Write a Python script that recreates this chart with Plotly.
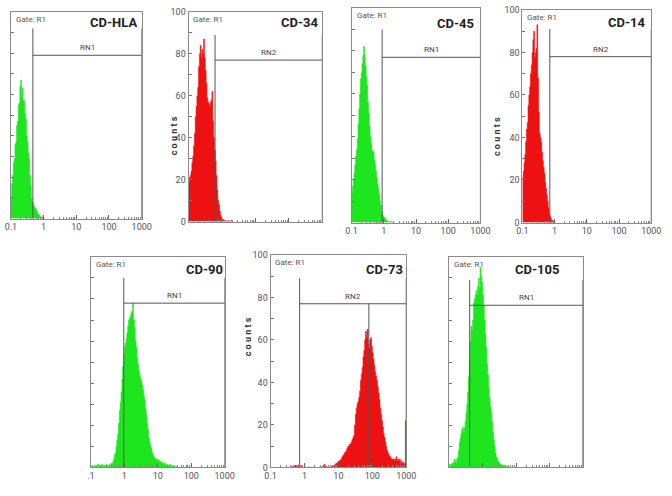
import math
import plotly.graph_objects as go

# histogram channels: log-spaced bins starting at 0.1, 40 bins per decade
bin_start = -1.0
bin_step = 0.025

panel_names = ["CD-HLA", "CD-34", "CD-45", "CD-14", "CD-90", "CD-73", "CD-105"]
region_names = ["RN1", "RN2", "RN1", "RN2", "RN1", "RN2", "RN1"]

hla_counts = [10, 17, 21, 27, 29, 36, 37, 45, 47, 55, 56, 64, 67, 59, 63, 57, 57, 51, 48, 40,
              37, 32, 29, 21, 16, 10, 8, 7, 6, 5, 5, 4, 3, 2, 2, 1, 1, 0.5]
cd34_counts = [19, 21, 22, 24, 28, 31, 36, 42, 50, 55, 60, 64, 74, 80, 84, 78, 82, 80, 87, 78,
               72, 66, 59, 57, 56, 55, 57, 58, 62, 48, 40, 34, 29, 22, 15, 10, 8, 5, 3, 2,
               1, 1, 0.5, 0, 0.5, 0, 0, 0.5, 0, 0.3, 0, 0.5]
cd45_counts = [14, 17, 20, 23, 27, 31, 34, 39, 46, 53, 60, 67, 70, 74, 78, 82, 77, 73, 68, 64,
               56, 51, 45, 40, 37, 34, 33, 33, 29, 27, 24, 21, 18, 16, 13, 10, 8, 5, 4, 3,
               2.5, 2, 1.5, 1, 1, 0.5, 0.5, 0.5, 0.3, 0.5, 0.3]
cd14_counts = [21, 24, 28, 32, 38, 44, 47, 55, 60, 64, 70, 74, 80, 86, 90, 78, 80, 82, 93, 68,
               52, 42, 40, 38, 33, 29, 26, 23, 19, 16, 13, 10, 7, 4, 3, 2, 1, 1, 0.5, 0.5]
cd90_counts = [0.5, 1, 0.5, 0, 1, 0.5, 1, 0.5, 1.5, 0.5, 1, 0.5, 1, 1.5, 0.5, 1, 1, 0.5, 1.5, 1,
               0.5, 1, 1.5, 1, 2, 1.5, 2.5, 4, 6, 7, 10, 13, 16, 21, 27, 31, 36, 42, 48, 53,
               57, 59, 61, 64, 67, 70, 71, 72, 74, 73, 78, 70, 66, 60, 57, 52, 49, 46, 44, 42,
               41, 39, 37, 34, 32, 28, 25, 21, 18, 14, 12, 10, 9, 7, 6, 5, 4.5, 4, 3.5, 4,
               3, 3.5, 2.5, 3, 2, 2.5, 2, 1.5, 2, 1.5, 1, 1.5, 1, 1, 1.5, 0.5, 1, 0.5, 1, 0.5,
               0.5, 0.3, 0.5]
cd73_counts = [0, 0, 0, 0, 0, 0, 0, 0, 0, 0, 0, 0, 0, 0, 0, 0, 0, 0, 0, 0,
               0, 0, 0, 0, 0, 0.5, 0, 0.8, 0.3, 1, 0.5, 0, 1.2, 0.5, 1, 0.3, 0.8, 0.5, 0, 0,
               0.3, 0, 0, 0, 0, 0.3, 0, 0, 0, 0, 0, 0.3, 0, 0, 0, 0, 0, 0, 0.3, 0,
               0, 0.5, 1, 1.5, 0.8, 0.5, 0.3, 0, 0.3, 0, 0, 0.5, 0.3, 0.8, 0.5, 1, 1.5, 2, 2, 2.5,
               3, 3, 3.5, 4, 5, 5.5, 6, 7, 7, 8, 9, 10, 10, 11, 11, 12, 13, 14, 15, 20,
               25, 28, 30, 31, 33, 36, 41, 44, 47, 52, 55, 60, 64, 61, 65, 58, 56, 60, 61, 57,
               54, 51, 48, 45, 43, 41, 38, 35, 32, 28, 25, 22, 19, 16, 14, 12, 10, 8, 7, 6,
               5, 5, 4, 4, 3.5, 4, 3, 4, 5, 3, 4, 3, 4, 2, 3, 2, 2.5, 1.5, 2, 22]
cd105_counts = [1.5, 1.5, 1, 2, 1.5, 2.5, 4, 3, 2, 4, 5, 8, 12, 14, 16, 18, 19, 17, 19, 22,
                26, 30, 36, 43, 51, 60, 67, 65, 70, 78, 80, 82, 84, 82, 86, 90, 85, 95, 91, 88,
                82, 77, 70, 63, 57, 49, 44, 38, 33, 29, 26, 22, 17, 13, 10, 7, 5, 4, 3, 2.5,
                2, 1.5, 1.5, 1, 1, 0.5, 1, 0.5, 0.5, 0.3, 0.5]

all_counts = [hla_counts, cd34_counts, cd45_counts, cd14_counts, cd90_counts, cd73_counts, cd105_counts]

# marker (gate) regions
gate_low = [0.47, 0.62, 0.89, 0.71, 0.96, 0.72, 0.41]
gate_high = 1000
gate_top = [92, 89, 90, 91, 90, 89, 89]
marker_level = [79, 77, 77, 78, 78, 77, 77]
cd73_median = 79

x_tick_vals = [0.1, 1, 10, 100, 1000]
x_tick_text = ["0.1", "1", "10", "100", "1000"]
x_tick_text_90 = [".1", "1", "10", "100", "1000"]

GREEN = "#1ee61e"
RED = "#ee1111"
colors = [GREEN, RED, GREEN, RED, GREEN, RED, GREEN]

# layout in pixels: left, right, top, bottom
W, H = 672, 496
boxes = [(5, 139, 7, 218), (187, 324, 7, 221), (354, 486, 3, 222), (529, 661, 5, 222),
         (87, 224, 257, 472), (271, 410, 255, 472), (454, 591, 257, 472)]
title_pos = [(136, 18), (323, 18), (481, 19), (658, 18), (224, 270), (409, 270), (569, 270)]
show_y_labels = [False, True, False, True, False, True, False]
x_labels = [x_tick_text, None, x_tick_text, x_tick_text, x_tick_text_90, x_tick_text, None]
counts_pos = [(165, 112), (510, 112), (248, 361)]

minor_vals = [m * 10 ** d for d in range(-1, 3) for m in range(2, 10)]

FONT = "Roboto, Liberation Sans, Arial, sans-serif"

fig = go.Figure()
layout = {}
annotations = []

for k in range(7):
    sfx = "" if k == 0 else str(k + 1)
    xa, ya = "x" + sfx, "y" + sfx
    counts = all_counts[k]
    edges = [10 ** (bin_start + i * bin_step) for i in range(len(counts) + 1)]
    fig.add_trace(go.Scatter(x=edges, y=counts + [counts[-1]], mode="lines",
                             line=dict(shape="hv", width=0.6, color=colors[k]),
                             fill="tozeroy", fillcolor=colors[k],
                             xaxis=xa, yaxis=ya, hoverinfo="skip", showlegend=False))

    g, t, m = gate_low[k], gate_top[k], marker_level[k]
    gx = [g, g, None, g, gate_high, None, gate_high, gate_high]
    gy = [0, t, None, m, m, None, 0, t]
    if k == 5:
        gx += [None, cd73_median, cd73_median]
        gy += [None, 0, m]
    fig.add_trace(go.Scatter(x=gx, y=gy, mode="lines", line=dict(color="#555555", width=1),
                             xaxis=xa, yaxis=ya, hoverinfo="skip", showlegend=False))

    l, r, tp, bt = boxes[k]
    layout["xaxis" + sfx] = dict(
        domain=[l / W, r / W], anchor=ya, type="log", range=[-1, 3],
        tickmode="array", tickvals=x_tick_vals, ticktext=x_labels[k] or x_tick_text,
        showticklabels=x_labels[k] is not None,
        ticks="inside", ticklen=4, tickcolor="#666666",
        minor=dict(tickmode="array", tickvals=minor_vals, ticks="inside", ticklen=2, tickcolor="#888888"),
        showline=True, linecolor="#8a8a8a", linewidth=1, mirror=True,
        showgrid=False, zeroline=False,
        tickfont=dict(family=FONT, size=9, color="#555555"))
    layout["yaxis" + sfx] = dict(
        domain=[1 - bt / H, 1 - tp / H], anchor=xa, range=[0, 100],
        dtick=20, ticks="inside", ticklen=3, tickcolor="#777777",
        minor=dict(dtick=10, ticks="inside", ticklen=3, tickcolor="#777777"),
        showticklabels=show_y_labels[k],
        showline=True, linecolor="#8a8a8a", linewidth=1, mirror=True,
        showgrid=False, zeroline=False,
        tickfont=dict(family=FONT, size=9, color="#555555"))

    tx, ty = title_pos[k]
    annotations.append(dict(x=tx / W, y=1 - ty / H, xref="paper", yref="paper",
                            text="<b>" + panel_names[k] + "</b>", showarrow=False,
                            xanchor="right", yanchor="middle",
                            font=dict(family=FONT, size=13, color="#222222")))
    annotations.append(dict(x=(l + 3) / W, y=1 - (tp + 8) / H, xref="paper", yref="paper",
                            text="Gate: R1", showarrow=False, xanchor="left", yanchor="middle",
                            font=dict(family=FONT, size=8, color="#555555")))
    mid = ((math.log10(g) + 1) / 4 + 1) / 2
    annotations.append(dict(x=mid, y=m / 100, xref=xa + " domain", yref=ya + " domain",
                            text=region_names[k], showarrow=False, xanchor="center",
                            yanchor="bottom", yshift=1,
                            font=dict(family=FONT, size=8, color="#444444")))

for cx, cy in counts_pos:
    annotations.append(dict(x=cx / W, y=1 - cy / H, xref="paper", yref="paper",
                            text="<b>c o u n t s</b>", showarrow=False, textangle=-90,
                            font=dict(family=FONT, size=9, color="#333333")))

fig.update_layout(width=W, height=H, margin=dict(l=0, r=0, t=0, b=0),
                  paper_bgcolor="white", plot_bgcolor="white",
                  annotations=annotations, **layout)

# the page body has a default 8px margin; drop it so the figure fills the window
fig.write_html("out.html", config={"displayModeBar": False},
               post_script="document.body.style.margin = '0';")
